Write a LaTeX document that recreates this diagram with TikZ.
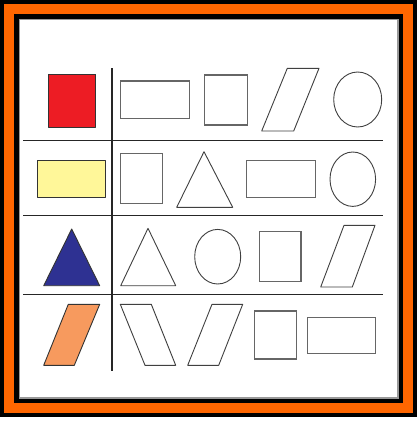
\documentclass[tikz,border=0pt]{standalone}
\definecolor{frameorange}{HTML}{FF6600}
\definecolor{shapered}{HTML}{ED1C24}
\definecolor{shapeyellow}{HTML}{FFF799}
\definecolor{shapeblue}{HTML}{2E3192}
\definecolor{shapeorange}{HTML}{F79A5E}
\tikzset{
  outl/.style={draw=black!75, line width=0.9pt, line join=round},
  boxl/.style={draw=black!60, line width=1.1pt},
  filled/.style={draw=black!80, line width=0.9pt, line join=round},
  gridl/.style={draw=black!85, line width=1.1pt},
}
\begin{document}
\begin{tikzpicture}[x=1pt,y=-1pt]
\useasboundingbox (0,0) rectangle (417,423);
\fill[white] (0,0) rectangle (417,423);
% frame
\fill[black] (0,0) rectangle (417,416.5);
\fill[frameorange] (4.3,4.3) rectangle (412.7,412.7);
\fill[black] (14.3,14.3) rectangle (403,403);
\fill[black!40] (19,19) rectangle (399,399);
\fill[white] (19.5,19.5) rectangle (397,397);
% grid
\draw[gridl, line width=1.5pt] (112,68) -- (112,371);
\draw[gridl] (23,140.5) -- (383,140.5);
\draw[gridl] (23,215.3) -- (383,215.3);
\draw[gridl] (23,294.3) -- (383,294.3);
% row 1
\draw[filled, fill=shapered] (48.3,74.3) rectangle (95.7,127.3);
\draw[boxl] (120.3,81) rectangle (189.7,118.3);
\draw[boxl] (204.7,75) rectangle (247.7,125);
\draw[outl] (287.3,68.3) -- (319,68.3) -- (293.7,131) -- (261.7,131) -- cycle;
\draw[outl] (357.7,99.5) ellipse [x radius=24, y radius=27.5];
% row 2
\draw[filled, fill=shapeyellow] (37.7,160.3) rectangle (105.7,197.3);
\draw[boxl] (120.3,153.7) rectangle (162.7,203.3);
\draw[outl] (204,151.7) -- (232.7,207.3) -- (176.7,207.3) -- cycle;
\draw[boxl] (246.7,160.3) rectangle (315.3,197.3);
\draw[outl] (352.8,179.2) ellipse [x radius=22.8, y radius=27.2];
% row 3
\draw[filled, fill=shapeblue] (71.7,229) -- (99.7,285.7) -- (43.7,285.7) -- cycle;
\draw[outl] (148,228.3) -- (175.7,285.7) -- (120.7,285.7) -- cycle;
\draw[outl] (217.7,256.7) ellipse [x radius=23, y radius=27.3];
\draw[boxl] (259.3,231.7) rectangle (301,281.7);
\draw[outl] (344,225.3) -- (375,225.3) -- (352.3,287) -- (320.7,287) -- cycle;
% row 4
\draw[filled, fill=shapeorange] (68.3,304.3) -- (99.7,304.3) -- (74.3,365.3) -- (43.7,365.3) -- cycle;
\draw[outl] (120.3,304.3) -- (151.3,304.3) -- (175.7,365.3) -- (145,365.3) -- cycle;
\draw[outl] (212,304.3) -- (242.7,304.3) -- (218.7,365.3) -- (187.7,365.3) -- cycle;
\draw[boxl] (254.3,311) rectangle (296.7,359);
\draw[boxl] (307.3,317.3) rectangle (375.7,353.3);
\end{tikzpicture}
\end{document}
